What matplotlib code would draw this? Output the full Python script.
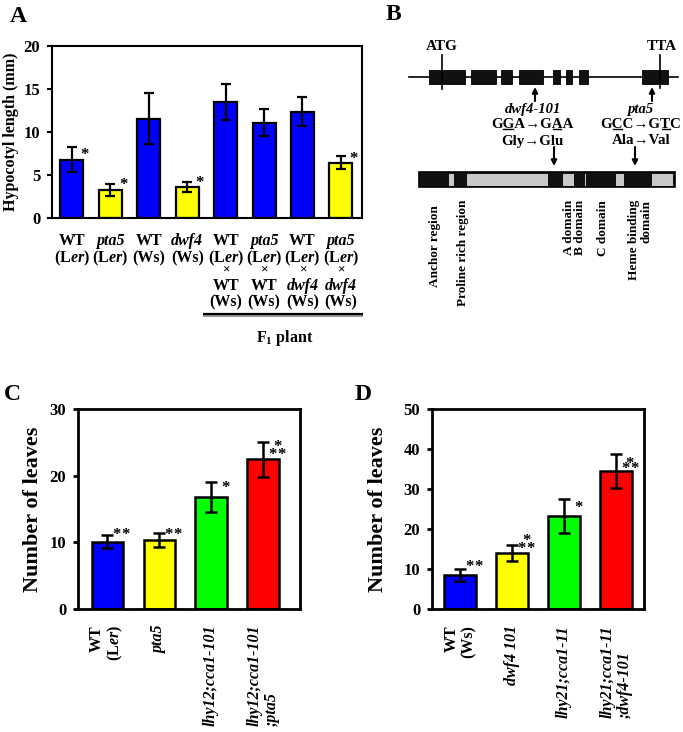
import matplotlib
matplotlib.use('Agg')
import matplotlib.pyplot as plt
from matplotlib import transforms
from matplotlib.patches import Rectangle

plt.rcParams['font.family'] = ['Liberation Serif', 'DejaVu Serif']
plt.rcParams['font.weight'] = 'bold'
plt.rcParams['mathtext.fontset'] = 'custom'
plt.rcParams['mathtext.rm'] = 'Liberation Serif:bold'
plt.rcParams['mathtext.it'] = 'Liberation Serif:italic:bold'
plt.rcParams['mathtext.bf'] = 'Liberation Serif:bold'

# ---------------- data ----------------
a_labels = [
    ["WT", "(L$\\mathit{er}$)"],
    ["pta5", "(L$\\mathit{er}$)"],
    ["WT", "(Ws)"],
    ["dwf4", "(Ws)"],
    ["WT", "(L$\\mathit{er}$)", "×", "WT", "(Ws)"],
    ["pta5", "(L$\\mathit{er}$)", "×", "WT", "(Ws)"],
    ["WT", "(L$\\mathit{er}$)", "×", "dwf4", "(Ws)"],
    ["pta5", "(L$\\mathit{er}$)", "×", "dwf4", "(Ws)"],
]
italic_words = {"pta5", "dwf4"}
a_values = [6.75, 3.26, 11.55, 3.57, 13.45, 11.1, 12.35, 6.43]
a_errors = [1.45, 0.65, 3.0, 0.6, 2.1, 1.6, 1.7, 0.73]
a_colors = ['#0000ff', '#ffff00', '#0000ff', '#ffff00', '#0000ff', '#0000ff', '#0000ff', '#ffff00']
a_stars = {0: 7.9, 1: 4.4, 3: 4.65, 7: 7.4}

c_labels = ["WT\n(L$\\mathit{er}$)", "pta5", "lhy12;cca1-101", "lhy12;cca1-101\n;pta5"]
c_italic = [False, True, True, True]
c_align = ['right', 'left', 'left', 'left']
c_values = [10.1, 10.35, 16.85, 22.45]
c_errors = [1.0, 1.0, 2.25, 2.65]

d_labels = ["WT\n(Ws)", "dwf4 101", "lhy21;cca1-11", "lhy21;cca1-11\n;dwf4-101"]
d_italic = [False, True, True, True]
d_align = ['right', 'left', 'left', 'left']
d_values = [8.5, 13.9, 23.25, 34.5]
d_errors = [1.6, 2.0, 4.2, 4.3]

cd_colors = ['#0000ff', '#ffff00', '#00ff00', '#ff0000']
# (y position, number of asterisks)
c_stars = [[(11.85, 2)], [(11.85, 2)], [(18.9, 1)], [(25.1, 1), (23.85, 2)]]
d_stars = [[(11.75, 2)], [(18.3, 1), (16.3, 2)], [(26.5, 1)], [(37.6, 1), (36.2, 2)]]

# gene model for panel B (pixel layout of the schematic)
gene_span = (409, 678)
exons = [(429, 465), (471, 496), (501, 512), (519, 543), (553, 560), (566, 572), (579, 588), (642, 668)]
protein_span = (419, 675)
protein_light = [(449, 454), (467, 548), (563, 574), (584.5, 585.5), (616, 624), (652, 673)]
domain_labels = [("Anchor region", 435, 205, 'left'), ("Proline rich region", 463, 200, 'left'),
                 ("A domain", 569, 200, 'left'), ("B domain", 580, 200, 'left'),
                 ("C domain", 603, 200, 'left'), ("Heme binding\ndomain", 640, 200, 'right')]

# ---------------- figure ----------------
W, H = 683, 732
fig = plt.figure(figsize=(W / 100, H / 100), dpi=100)


def px_axes(l, t, r, b):
    return fig.add_axes([l / W, 1 - b / H, (r - l) / W, (b - t) / H])


def fy(y):
    return 1 - y / H


axb = fig.add_axes([0, 0, 1, 1])
axb.set_xlim(0, W)
axb.set_ylim(H, 0)
axb.axis('off')


def style_axes(ax, lw):
    for s in ax.spines.values():
        s.set_linewidth(lw)
    ax.tick_params(axis='x', bottom=False, labelbottom=False)
    ax.tick_params(axis='y', direction='out', length=3.5, width=lw, labelsize=12, pad=5)
    for t in ax.get_yticklabels():
        t.set_fontweight('bold')


def star(ax, x, y, n, fs=12):
    offs = [0.0] if n == 1 else [-3.3, 3.3]
    for dx in offs:
        ax.annotate('*', xy=(x, y), xycoords='data', ha='center', va='center', fontsize=fs,
                    xytext=(dx, -0.3 * fs), textcoords='offset points', annotation_clip=False)


# ---------------- Panel A ----------------
axA = px_axes(52, 46, 362, 218)
xa = list(range(len(a_values)))
axA.bar(xa, a_values, width=0.6, color=a_colors, edgecolor='black', linewidth=1.6, zorder=2)
axA.errorbar(xa, a_values, yerr=a_errors, fmt='none', ecolor='black', elinewidth=1.6,
             capsize=3.8, capthick=1.6, zorder=3)
axA.set_xlim(-0.52, 7.55)
axA.set_ylim(0, 20)
axA.set_yticks([0, 5, 10, 15, 20])
style_axes(axA, 1.5)
axA.set_ylabel("Hypocotyl length (mm)", fontsize=11.5, fontweight='bold')
axA.yaxis.set_label_coords(-0.132, 0.5)
axA.yaxis.label.set_verticalalignment('center')
for i, y in a_stars.items():
    star(axA, i + 0.33, y, 1)

row_base = [245, 262, 274, 290, 306]
tA = transforms.blended_transform_factory(axA.transData, fig.transFigure)
for i, lines in enumerate(a_labels):
    for r, s in enumerate(lines):
        fs = 9.5 if s == "×" else 11.5
        fig.text(i, fy(row_base[r]), s, transform=tA, ha='center', va='baseline', fontsize=fs,
                 fontstyle='italic' if s in italic_words else 'normal')

axb.plot([203, 363], [316, 316], color='#9a9a9a', lw=1.5, solid_capstyle='butt')
axb.plot([203, 363], [314, 314], color='black', lw=1.6, solid_capstyle='butt')
axb.text(285, 338, "F$_{1}$ plant", ha='center', va='center', fontsize=11.5)


# ---------------- Panels C and D ----------------
def leaf_panel(rect, values, errors, labels, italic, align, ymax, xlim, stars, ylabx):
    ax = px_axes(*rect)
    x = list(range(len(values)))
    ax.bar(x, values, width=0.6, color=cd_colors, edgecolor='black', linewidth=1.8, zorder=2)
    ax.errorbar(x, values, yerr=errors, fmt='none', ecolor='black', elinewidth=1.8,
                capsize=4, capthick=1.8, zorder=3)
    ax.set_xlim(*xlim)
    ax.set_ylim(0, ymax)
    ax.set_yticks(list(range(0, ymax + 1, 10)))
    style_axes(ax, 2.0)
    ax.set_ylabel("Number of leaves", fontsize=16, fontweight='bold')
    ax.yaxis.set_label_coords(ylabx, 0.5)
    ax.yaxis.label.set_verticalalignment('center')
    t = transforms.blended_transform_factory(ax.transData, fig.transFigure)
    for i, s in enumerate(labels):
        fig.text(i, fy(625), s, transform=t, rotation=90, ha='center', va='top', fontsize=11.5,
                 fontstyle='italic' if italic[i] else 'normal', multialignment=align[i],
                 linespacing=1.1)
    for i, st in enumerate(stars):
        for (yv, n) in st:
            star(ax, i + 0.27, yv, n)
    return ax


axC = leaf_panel((78, 409, 300, 609), c_values, c_errors, c_labels, c_italic, c_align, 30,
                 (-0.56, 3.71), c_stars, (33 - 78) / 222)
axD = leaf_panel((432, 409, 644, 609), d_values, d_errors, d_labels, d_italic, d_align, 50,
                 (-0.54, 3.54), d_stars, (378 - 432) / 212)

# ---------------- Panel B (schematic) ----------------
axb.plot(gene_span, [77, 77], color='black', lw=1.2, zorder=1)
for x0, x1 in exons:
    axb.add_patch(Rectangle((x0, 70), x1 - x0, 14, fc='#111111', ec='black', lw=0.6, zorder=2))
axb.plot([442, 442], [55, 89], color='black', lw=1.2, zorder=3)
axb.plot([660, 660], [55, 88], color='black', lw=1.2, zorder=3)
axb.text(442, 47, "ATG", ha='center', va='center', fontsize=11)
axb.text(662, 47, "TTA", ha='center', va='center', fontsize=11)

arr = dict(arrowstyle='-|>', color='black', lw=1.5, mutation_scale=8, shrinkA=0, shrinkB=0)
axb.annotate('', xy=(535, 87), xytext=(535, 101), arrowprops=arr)
axb.annotate('', xy=(652, 87), xytext=(652, 101), arrowprops=arr)
axb.annotate('', xy=(554, 166), xytext=(554, 147), arrowprops=arr)
axb.annotate('', xy=(635, 166), xytext=(635, 147), arrowprops=arr)

axb.text(533, 109, "dwf4-101", ha='center', va='center', fontsize=10.5, fontstyle='italic')
axb.text(640, 109, "pta5", ha='center', va='center', fontsize=10.5, fontstyle='italic')
mut1 = axb.text(532, 125, "GGA→GAA", ha='center', va='center', fontsize=10.8)
mut2 = axb.text(641, 125, "GCC→GTC", ha='center', va='center', fontsize=10.8)
axb.text(532, 141, "Gly→Glu", ha='center', va='center', fontsize=10.8)
axb.text(641, 141, "Ala→Val", ha='center', va='center', fontsize=10.8)

fig.canvas.draw()
renderer = fig.canvas.get_renderer()
inv = axb.transData.inverted()


def underline(txt, idx):
    s = txt.get_text()
    bb = txt.get_window_extent(renderer)

    def width(sub):
        if not sub:
            return 0.0
        tmp = axb.text(0, 0, sub, fontsize=txt.get_fontsize())
        w = tmp.get_window_extent(renderer).width
        tmp.remove()
        return w
    x0 = bb.x0 + width(s[:idx])
    x1 = bb.x0 + width(s[:idx + 1])
    (dx0, dy), (dx1, _) = inv.transform([(x0 + 1, bb.y0 + 3), (x1 - 1, bb.y0 + 3)])
    axb.plot([dx0, dx1], [dy, dy], color='black', lw=1.0)


underline(mut1, 1)
underline(mut1, 5)
underline(mut2, 1)
underline(mut2, 5)

axb.add_patch(Rectangle((protein_span[0], 172), protein_span[1] - protein_span[0], 15,
                        fc='#111111', ec='black', lw=1.2, zorder=2))
for x0, x1 in protein_light:
    axb.add_patch(Rectangle((x0, 173.5), x1 - x0, 12, fc='#c8c8c8', ec='none', zorder=3))

for s, x, y, al in domain_labels:
    axb.text(x, y, s, rotation=90, ha='center', va='top', fontsize=9.5, multialignment=al,
             linespacing=1.05)

for s, x, y in [("A", 18, 16), ("B", 393, 14), ("C", 12, 395), ("D", 363, 395)]:
    fig.text(x / W, fy(y), s, ha='center', va='center', fontsize=17, fontweight='bold')

fig.savefig('out.png', dpi=100)
